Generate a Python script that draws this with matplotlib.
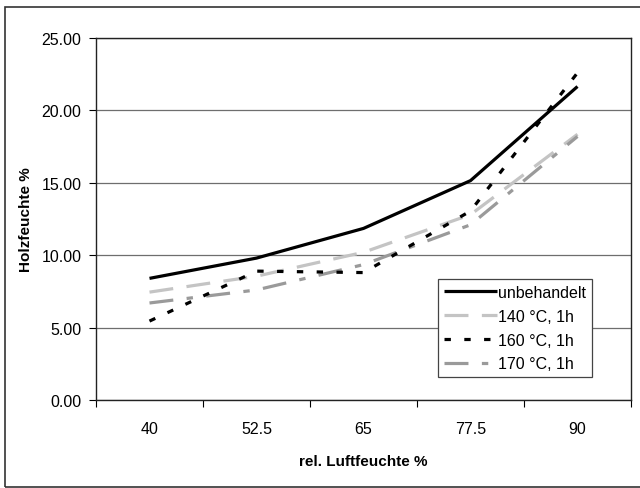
import matplotlib
matplotlib.use('Agg')
import matplotlib.pyplot as plt
from matplotlib.patches import Rectangle

plt.rcParams['font.family'] = ['Liberation Sans', 'DejaVu Sans']

# --- Daten ---
luftfeuchte = ['40', '52.5', '65', '77.5', '90']
unbehandelt = [8.4, 9.8, 11.85, 15.15, 21.65]
t140 = [7.45, 8.55, 10.2, 12.8, 18.35]
t160 = [5.45, 8.9, 8.8, 13.05, 22.6]
t170 = [6.7, 7.6, 9.35, 12.1, 18.2]

fig = plt.figure(figsize=(6.4, 4.89), dpi=100)
ax = fig.add_axes([96 / 640, 88 / 489, 535 / 640, 362 / 489])

# Rahmen um das Diagramm
fig.patches.append(Rectangle((5 / 640, 1 / 489), 1.0, 480 / 489,
                             transform=fig.transFigure, fill=False,
                             edgecolor='#333333', linewidth=1.2))

x = range(len(luftfeuchte))
ax.plot(x, unbehandelt, color='black', linewidth=2.3, label='unbehandelt',
        solid_capstyle='butt', zorder=5)
ax.plot(x, t140, color='#c4c4c4', linewidth=2.3, dashes=(7.5, 4.2),
        label='140 °C, 1h', zorder=3)
ax.plot(x, t160, color='black', linewidth=2.3, dashes=(2.0, 4.2),
        label='160 °C, 1h', zorder=4)
ax.plot(x, t170, color='#9a9a9a', linewidth=2.3, dashes=(7.5, 4.2, 2.0, 4.2),
        label='170 °C, 1h', zorder=3)

ax.set_xlim(-0.5, len(luftfeuchte) - 0.5)
ax.set_ylim(0, 25)

# Kategorien-Achse: Striche zwischen den Kategorien
ax.set_xticks(list(x))
ax.set_xticklabels(luftfeuchte, fontsize=11.5)
ax.set_xticks([i - 0.5 for i in range(len(luftfeuchte) + 1)], minor=True)
ax.tick_params(axis='x', which='major', length=0, pad=15)
ax.tick_params(axis='x', which='minor', length=5, width=0.8)

ax.set_yticks([0, 5, 10, 15, 20, 25])
ax.set_yticklabels([f'{v:.2f}' for v in [0, 5, 10, 15, 20, 25]], fontsize=11.5)
ax.tick_params(axis='y', length=5, width=0.8, pad=5.5)

ax.yaxis.grid(True, color='#6e6e6e', linewidth=0.9)
ax.set_axisbelow(True)
for s in ax.spines.values():
    s.set_linewidth(1.0)
    s.set_color('#222222')

ax.set_xlabel('rel. Luftfeuchte %', fontsize=11, fontweight='bold', labelpad=13)
ax.set_ylabel('Holzfeuchte %', fontsize=11, fontweight='bold', labelpad=6)

leg = ax.legend(loc='lower right', bbox_to_anchor=(0.927, 0.0635), fontsize=11.5,
                handlelength=3.3, handletextpad=0.1, labelspacing=0.55,
                borderpad=0.35, fancybox=False, framealpha=1,
                edgecolor='#444444', borderaxespad=0)
leg.get_frame().set_linewidth(0.9)

fig.savefig('out.png', dpi=100)
